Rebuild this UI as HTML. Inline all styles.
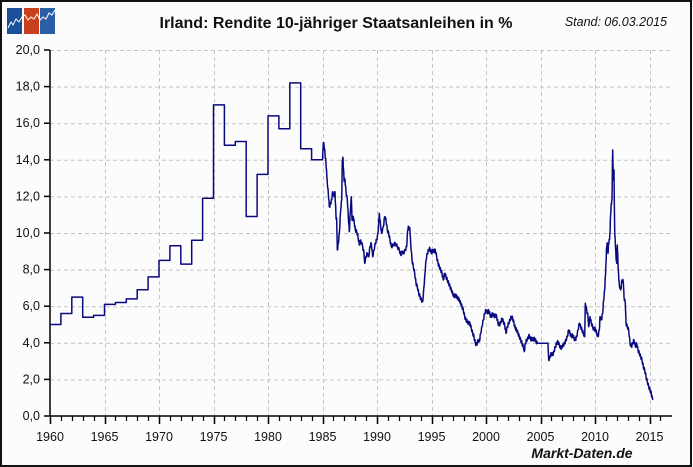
<!DOCTYPE html>
<html><head><meta charset="utf-8"><style>
html,body{margin:0;padding:0;background:#fcfcfc;}
svg{display:block;font-family:"Liberation Sans",Arial,sans-serif;}
</style></head><body>
<svg id="s" width="693" height="467" viewBox="0 0 693 467" xmlns="http://www.w3.org/2000/svg">
<rect x="0" y="0" width="693" height="467" fill="#fcfcfc"/>
<rect x="1" y="1" width="690" height="465" fill="none" stroke="#111" stroke-width="2"/>
<rect x="7" y="8" width="15" height="26" fill="#1a4f9a"/>
<rect x="24" y="8" width="15" height="26" fill="#c8401c"/>
<rect x="40" y="8" width="15" height="26" fill="#2a5fa8"/>
<polyline points="8,28 11,22 13,25 16,19 19,22 22,17 25,15 28,20 31,17 34,19 37,14 40,20 43,17 46,19 49,13 52,15 55,10" fill="none" stroke="#fff" stroke-width="1"/>
<text x="336" y="28" text-anchor="middle" font-size="16" font-weight="bold" fill="#111">Irland: Rendite 10-jähriger Staatsanleihen in %</text>
<text x="667" y="26" text-anchor="end" font-size="12.5" font-style="italic" fill="#111">Stand: 06.03.2015</text>
<g id="grid" stroke="#c4c4c4" stroke-dasharray="4,3" stroke-width="1"></g>
<g id="axes" stroke="#000" stroke-width="1.5"></g>
<g id="lbl" font-size="12.5" fill="#111"></g>
<polyline id="line" fill="none" stroke="#0a0a80" stroke-width="1.5" stroke-linejoin="round"/>
<text x="582" y="458" text-anchor="middle" font-size="14" font-weight="bold" font-style="italic" fill="#111">Markt-Daten.de</text>
</svg>
<script>
var NS="http://www.w3.org/2000/svg";
function X(y){return 50+(y-1960)*10.9;}
function Y(v){return 416-v*18.3;}
function el(p,t,a,txt){var e=document.createElementNS(NS,t);for(var k in a)e.setAttribute(k,a[k]);if(txt!=null)e.textContent=txt;document.getElementById(p).appendChild(e);}
for(var v=2;v<=20;v+=2)el("grid","line",{x1:50,x2:672,y1:Y(v)+.5,y2:Y(v)+.5});
for(var y=1965;y<=2015;y+=5)el("grid","line",{x1:Math.round(X(y))+.5,x2:Math.round(X(y))+.5,y1:50,y2:416});
el("axes","line",{x1:50,x2:50,y1:50,y2:416});
el("axes","line",{x1:50,x2:672,y1:416,y2:416});
for(var v=0;v<=20;v+=2){el("axes","line",{x1:44,x2:50,y1:Y(v),y2:Y(v)});el("lbl","text",{x:40,y:Y(v)+4,"text-anchor":"end"},v.toFixed(1).replace(".",","));}
for(var y=1960;y<=2016;y++){var M=y%5==0;el("axes","line",{x1:Math.round(X(y))+.5,x2:Math.round(X(y))+.5,y1:416,y2:M?424:421,"stroke-width":M?1.5:1.2});if(M)el("lbl","text",{x:X(y),y:441,"text-anchor":"middle"},String(y));}
var st=[5.0,5.6,6.5,5.4,5.5,6.1,6.2,6.4,6.9,7.6,8.5,9.3,8.3,9.6,11.9,17.0,14.8,15.0,10.9,13.2,16.4,15.7,18.2,14.6,14.0];
var pts=[];
for(var i=0;i<st.length;i++){pts.push([X(1960+i),Y(st[i])]);pts.push([X(1961+i),Y(st[i])]);}
var raw=[];
var a=[40,68,42,75,45,100,48,130,50,160,52,190,55,220,58,260,62,250,65,240,68,215,72,230,75,215,78,290,80,300,82,390,85,370,88,340,92,270,95,240,97,120,99,115,102,180,105,180,108,215,112,240,115,290,118,335,120,290,124,230,126,300,130,290,133,310,136,330,140,335,144,350,148,375,152,360,158,380,162,400,164,430,168,410,172,400,176,410,180,380,184,370,188,410,192,390,196,370,200,360,204,340,208,280,212,320,215,340,220,320,224,290,228,300,232,330,236,340,240,360,244,380,250,375,256,370,262,380,268,390,272,405,276,395,280,400,286,390,290,380,293,330,296,320,300,330,302,370,306,420,310,440,314,460,318,490,322,500,326,520,330,530,334,540,338,545,342,500,345,460,348,420,352,400,356,390,360,385,364,400,368,390,372,395,376,390,380,410,384,430,388,440,392,450,396,460,400,480,404,460,408,470,412,480,416,490,420,500,424,510,428,520,432,530,436,525,440,530,444,535,448,540,452,550,456,560,460,570,464,590,468,600,472,605,476,610,480,610,484,625,488,640,492,650,496,670,500,675,504,660,508,665,512,640,516,620,520,600,524,580,528,570,532,580,536,570];
for(var i=0;i<a.length;i+=2)raw.push([310+a[i]/3,120+a[i+1]/3]);
var b=[60,555,64,560,68,550,72,560,76,555,80,560,84,580,88,585,92,578,96,565,100,575,104,585,108,610,112,590,116,580,120,570,124,560,128,565,132,580,136,595,140,600,144,610,148,620,152,630,156,640,160,650,163,665,166,640,170,630,174,625,178,615,182,630,186,625,190,630,194,625,198,635,202,640,234,640,236,690,240,680,244,670,248,675,252,665,256,650,260,640,264,635,268,645,272,655,276,650,280,645,284,640,288,630,292,620,296,600,300,610,304,620,308,615,312,625,316,630,320,620,324,600,328,580,332,590,336,600,340,610,344,620,346,520,350,540,354,560,356,590,360,560,364,580,368,590,372,600,376,595,380,610,384,620,388,600,390,560,394,570,398,550,401,510,404,480,406,440,408,400,410,350,412,340,414,370,416,340,418,330,420,310,422,250,424,220,426,210,428,60,430,150,432,120,434,300,436,340,438,380,440,400,442,345,444,400,446,440,448,465,452,480,456,450,460,455,462,500,466,520,468,580,472,590,476,600,480,640,484,650,488,640,492,630,496,650,500,640,504,660,508,670,512,680,516,690,520,710,524,720,528,740,532,755,536,770,540,780,544,790,548,810];
for(var i=0;i<b.length;i+=2)raw.push([470+b[i]/3,130+b[i+1]/3]);
var k=0;
for(var i=0;i<raw.length;i++){
  var p=raw[i];pts.push(p);
  if(i<raw.length-1){var q=raw[i+1];
    if(q[0]-p[0]<5){for(var j=1;j<3;j++){var t=j/3;k++;pts.push([p[0]+(q[0]-p[0])*t,p[1]+(q[1]-p[1])*t+((k%2)?1.6:-1.6)]);}}
  }
}
document.getElementById("line").setAttribute("points",pts.map(function(p){return p[0].toFixed(1)+","+p[1].toFixed(1);}).join(" "));
</script>
</body></html>
